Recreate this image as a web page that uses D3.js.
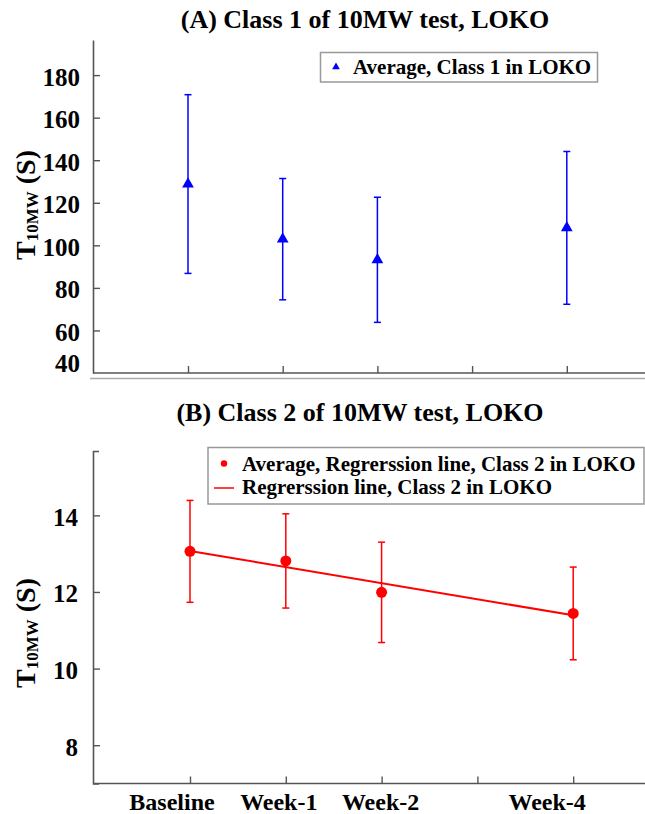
<!DOCTYPE html>
<html>
<head>
<meta charset="utf-8">
<script src="https://cdn.jsdelivr.net/npm/d3@7"></script>
<style>
  html, body { margin: 0; padding: 0; background: #fff; }
  svg { display: block; }
  text { font-family: "Liberation Serif", "Times New Roman", serif; font-weight: bold; }
</style>
</head>
<body>
<svg id="chart" width="645" height="814"></svg>
<script>
// ---------- data ----------
const categories   = ["Baseline", "Week-1", "Week-2", "Week-4"];
const weekIndex    = [0, 1, 2, 4];
const xTickWeeks   = [0, 1, 2, 3, 4];

const class1Mean   = [128.8, 102.9, 93.2, 108.2];
const class1Err    = [42.0, 28.5, 29.4, 35.9];
const yTicks1      = [40, 60, 80, 100, 120, 140, 160, 180];

const class2Mean   = [13.06, 12.81, 11.99, 11.44];
const class2Err    = [1.33, 1.23, 1.31, 1.21];
const regLineWeeks = [0, 4];
const regLineVals  = [13.07, 11.39];
const yTicks2      = [8, 10, 12, 14];

const titleA   = "(A) Class 1 of 10MW test, LOKO";
const titleB   = "(B) Class 2 of 10MW test, LOKO";
const legendA  = "Average, Class 1 in LOKO";
const legendB1 = "Average, Regrerssion line, Class 2 in LOKO";
const legendB2 = "Regrerssion line, Class 2 in LOKO";

// ---------- drawing ----------
const svg = d3.select("#chart");
const BLUE = "#0000ff", RED = "#ff0000", AXIS = "#555";
const axisX = 93;

function yLabel(g, cy) {
  const t = g.append("text")
    .attr("transform", `translate(35,${cy}) rotate(-90)`)
    .attr("text-anchor", "middle")
    .attr("font-size", 28)
    .attr("fill", "#000");
  t.append("tspan").text("T");
  t.append("tspan").attr("font-size", 17).attr("dy", 3).text("10MW");
  t.append("tspan").attr("dy", -3).text(" (S)");
}

function styleAxis(g) {
  g.select(".domain").attr("stroke", AXIS).attr("stroke-width", 1.6);
  g.selectAll(".tick line").attr("stroke", AXIS).attr("stroke-width", 1.4);
  g.selectAll(".tick text")
    .attr("font-family", "'Liberation Serif', 'Times New Roman', serif")
    .attr("font-weight", "bold").attr("fill", "#000");
  g.attr("font-family", null).attr("font-size", null);
}

// ===== Panel A =====
{
  const x = d3.scaleLinear().domain([-1, 5]).range([93.3, 661.5]);
  const y = d3.scaleLinear().domain([40, 196.5]).range([373, 40]);
  const g = svg.append("g");

  g.append("text").attr("x", 365).attr("y", 28).attr("text-anchor", "middle")
    .attr("font-size", 26).attr("fill", "#000").text(titleA);

  // separator line under panel A
  g.append("line").attr("x1", 90).attr("x2", 645).attr("y1", 378.5).attr("y2", 378.5)
    .attr("stroke", "#aaa").attr("stroke-width", 1.5);

  const ya = g.append("g").attr("transform", `translate(${axisX},0)`)
    .call(d3.axisLeft(y).tickValues(yTicks1).tickSizeInner(-7).tickSizeOuter(0).tickPadding(13));
  styleAxis(ya);
  ya.selectAll(".tick text").attr("font-size", 25).attr("dy", d => d === 40 ? "-0.05em" : "0.4em");
  ya.selectAll(".tick line").filter(d => d === 40).remove();

  const xa = g.append("g").attr("transform", `translate(0,${y(40)})`)
    .call(d3.axisBottom(x).tickValues(xTickWeeks).tickSizeInner(-7).tickSizeOuter(0).tickFormat(""));
  xa.select(".domain").attr("d", `M${axisX},0H645`);
  styleAxis(xa);

  yLabel(g, 205);

  // error bars
  const eb = g.append("g").attr("stroke", BLUE).attr("stroke-width", 1.5);
  weekIndex.forEach((w, i) => {
    const cx = x(w), top = y(class1Mean[i] + class1Err[i]), bot = y(class1Mean[i] - class1Err[i]);
    eb.append("line").attr("x1", cx).attr("x2", cx).attr("y1", top).attr("y2", bot);
    eb.append("line").attr("x1", cx - 3.5).attr("x2", cx + 3.5).attr("y1", top).attr("y2", top);
    eb.append("line").attr("x1", cx - 3.5).attr("x2", cx + 3.5).attr("y1", bot).attr("y2", bot);
  });
  g.selectAll("path.tri").data(weekIndex).enter().append("path")
    .attr("d", d3.symbol().type(d3.symbolTriangle).size(60))
    .attr("transform", (w, i) => `translate(${x(w)},${y(class1Mean[i])})`)
    .attr("fill", BLUE);

  // legend
  const lg = g.append("g");
  lg.append("rect").attr("x", 320.5).attr("y", 52.5).attr("width", 277).attr("height", 29.5)
    .attr("fill", "#fff").attr("stroke", "#999").attr("stroke-width", 1.5);
  lg.append("path").attr("d", d3.symbol().type(d3.symbolTriangle).size(26))
    .attr("transform", "translate(336,67)").attr("fill", BLUE);
  lg.append("text").attr("x", 353).attr("y", 74).attr("font-size", 21).attr("fill", "#000").text(legendA);
}

// ===== Panel B =====
{
  const x = d3.scaleLinear().domain([-1, 5]).range([94.2, 669]);
  const y = d3.scaleLinear().domain([7, 15.68]).range([783.5, 451]);
  const g = svg.append("g");

  g.append("text").attr("x", 360).attr("y", 421).attr("text-anchor", "middle")
    .attr("font-size", 26).attr("fill", "#000").text(titleB);

  const ya = g.append("g").attr("transform", `translate(${axisX},0)`)
    .call(d3.axisLeft(y).tickValues(yTicks2).tickSizeInner(-7).tickSizeOuter(-6).tickPadding(15));
  styleAxis(ya);
  ya.selectAll(".tick text").attr("font-size", 25).attr("dy", "0.4em");

  const xa = g.append("g").attr("transform", `translate(0,${y(7)})`)
    .call(d3.axisBottom(x).tickValues(xTickWeeks).tickSizeInner(-7).tickSizeOuter(0).tickFormat(""));
  xa.select(".domain").attr("d", `M${axisX},0H645`);
  styleAxis(xa);

  // category labels (placed as in the original figure, slightly offset from ticks)
  const labelDx = [-18, -7, -1, -26];
  g.selectAll("text.cat").data(categories).enter().append("text")
    .attr("x", (c, i) => x(weekIndex[i]) + labelDx[i]).attr("y", 810)
    .attr("text-anchor", "middle").attr("font-size", 24).attr("fill", "#000").text(c => c);

  yLabel(g, 633);

  // regression line
  const line = d3.line().x(d => x(d[0])).y(d => y(d[1]));
  g.append("path").datum(regLineWeeks.map((w, i) => [w, regLineVals[i]]))
    .attr("d", line).attr("fill", "none").attr("stroke", RED).attr("stroke-width", 2);

  // error bars
  const eb = g.append("g").attr("stroke", RED).attr("stroke-width", 1.5);
  weekIndex.forEach((w, i) => {
    const cx = x(w), top = y(class2Mean[i] + class2Err[i]), bot = y(class2Mean[i] - class2Err[i]);
    eb.append("line").attr("x1", cx).attr("x2", cx).attr("y1", top).attr("y2", bot);
    eb.append("line").attr("x1", cx - 3.5).attr("x2", cx + 3.5).attr("y1", top).attr("y2", top);
    eb.append("line").attr("x1", cx - 3.5).attr("x2", cx + 3.5).attr("y1", bot).attr("y2", bot);
  });
  g.selectAll("circle.pt").data(weekIndex).enter().append("circle")
    .attr("cx", w => x(w)).attr("cy", (w, i) => y(class2Mean[i])).attr("r", 5.5).attr("fill", RED);

  // legend
  const lg = g.append("g");
  lg.append("rect").attr("x", 208).attr("y", 447.5).attr("width", 436).attr("height", 56.5)
    .attr("fill", "#fff").attr("stroke", "#999").attr("stroke-width", 1.5);
  lg.append("circle").attr("cx", 224).attr("cy", 463.5).attr("r", 3.2).attr("fill", RED);
  lg.append("line").attr("x1", 214).attr("x2", 234).attr("y1", 488).attr("y2", 488)
    .attr("stroke", RED).attr("stroke-width", 1.5);
  lg.append("text").attr("x", 242).attr("y", 471).attr("font-size", 21).attr("fill", "#000").text(legendB1);
  lg.append("text").attr("x", 242).attr("y", 494).attr("font-size", 21).attr("fill", "#000").text(legendB2);
}
</script>
</body>
</html>
